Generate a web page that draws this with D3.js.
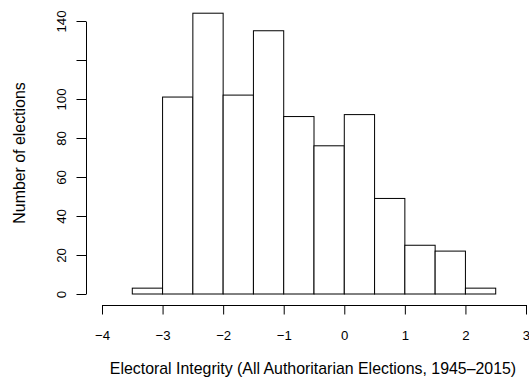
<!DOCTYPE html>
<html>
<head>
<meta charset="utf-8">
<script src="https://cdn.jsdelivr.net/npm/d3@7"></script>
<style>
  body { margin: 0; background: #fff; }
  text { font-family: "Liberation Sans", Arial, sans-serif; }
</style>
</head>
<body>
<div id="chart"></div>
<script>
  // histogram bins (left edges, width 0.5) and counts
  const binStarts = [-3.5, -3, -2.5, -2, -1.5, -1, -0.5, 0, 0.5, 1, 1.5, 2];
  const binWidth = 0.5;
  const counts = [3, 101, 144, 102, 135, 91, 76, 92, 49, 25, 22, 3];

  // axis ticks, R drops the 120 label because it overlaps
  const xTicks = [-4, -3, -2, -1, 0, 1, 2, 3];
  const yTicks = [0, 20, 40, 60, 80, 100, 120, 140];
  const yTickLabels = ["0", "20", "40", "60", "80", "100", "", "140"];

  const xTitle = "Electoral Integrity (All Authoritarian Elections, 1945\u20132015)";
  const yTitle = "Number of elections";

  const width = 529;
  const height = 381;
  const tickFont = 13.2;
  const titleFont = 15.9;

  const svg = d3.select("#chart")
    .append("svg")
    .attr("width", width)
    .attr("height", height);

  const x = d3.scaleLinear()
    .domain([-4, 3])
    .range([102, 526]);

  const y = d3.scaleLinear()
    .domain([0, 140])
    .range([294, 21]);

  // bars
  svg.selectAll(".bar")
    .data(binStarts)
    .enter()
    .append("rect")
    .attr("class", "bar")
    .attr("x", function(d) { return x(d); })
    .attr("y", function(d, i) { return y(counts[i]); })
    .attr("width", function(d) { return x(d + binWidth) - x(d); })
    .attr("height", function(d, i) { return y(0) - y(counts[i]); })
    .attr("fill", "white")
    .attr("stroke", "black")
    .attr("stroke-width", 1);

  // x axis, sits below the plot like R's
  const xAxis = svg.append("g")
    .attr("transform", "translate(0,305)")
    .call(d3.axisBottom(x)
      .tickValues(xTicks)
      .tickFormat(d3.format("d"))
      .tickSize(9.5)
      .tickPadding(16)
      .tickSizeOuter(0));

  // y axis
  const yAxis = svg.append("g")
    .attr("transform", "translate(86,0)")
    .call(d3.axisLeft(y)
      .tickValues(yTicks)
      .tickFormat(function(d, i) { return yTickLabels[i]; })
      .tickSize(9.5)
      .tickSizeOuter(0));

  [xAxis, yAxis].forEach(function(ax) {
    ax.select(".domain").attr("stroke", "black");
    ax.selectAll(".tick line").attr("stroke", "black");
    ax.selectAll("text")
      .attr("font-size", tickFont)
      .attr("fill", "black")
      .style("font-family", "'Liberation Sans', Arial, sans-serif");
  });

  // y tick labels run along the axis, as in R
  yAxis.selectAll(".tick text")
    .attr("x", null)
    .attr("dy", null)
    .attr("text-anchor", "middle")
    .attr("transform", "translate(-20.5,0) rotate(-90)");

  // axis titles
  svg.append("text")
    .attr("x", 313)
    .attr("y", 374)
    .attr("text-anchor", "middle")
    .attr("font-size", titleFont)
    .text(xTitle);

  svg.append("text")
    .attr("transform", "translate(25,153) rotate(-90)")
    .attr("text-anchor", "middle")
    .attr("font-size", titleFont)
    .text(yTitle);
</script>
</body>
</html>
